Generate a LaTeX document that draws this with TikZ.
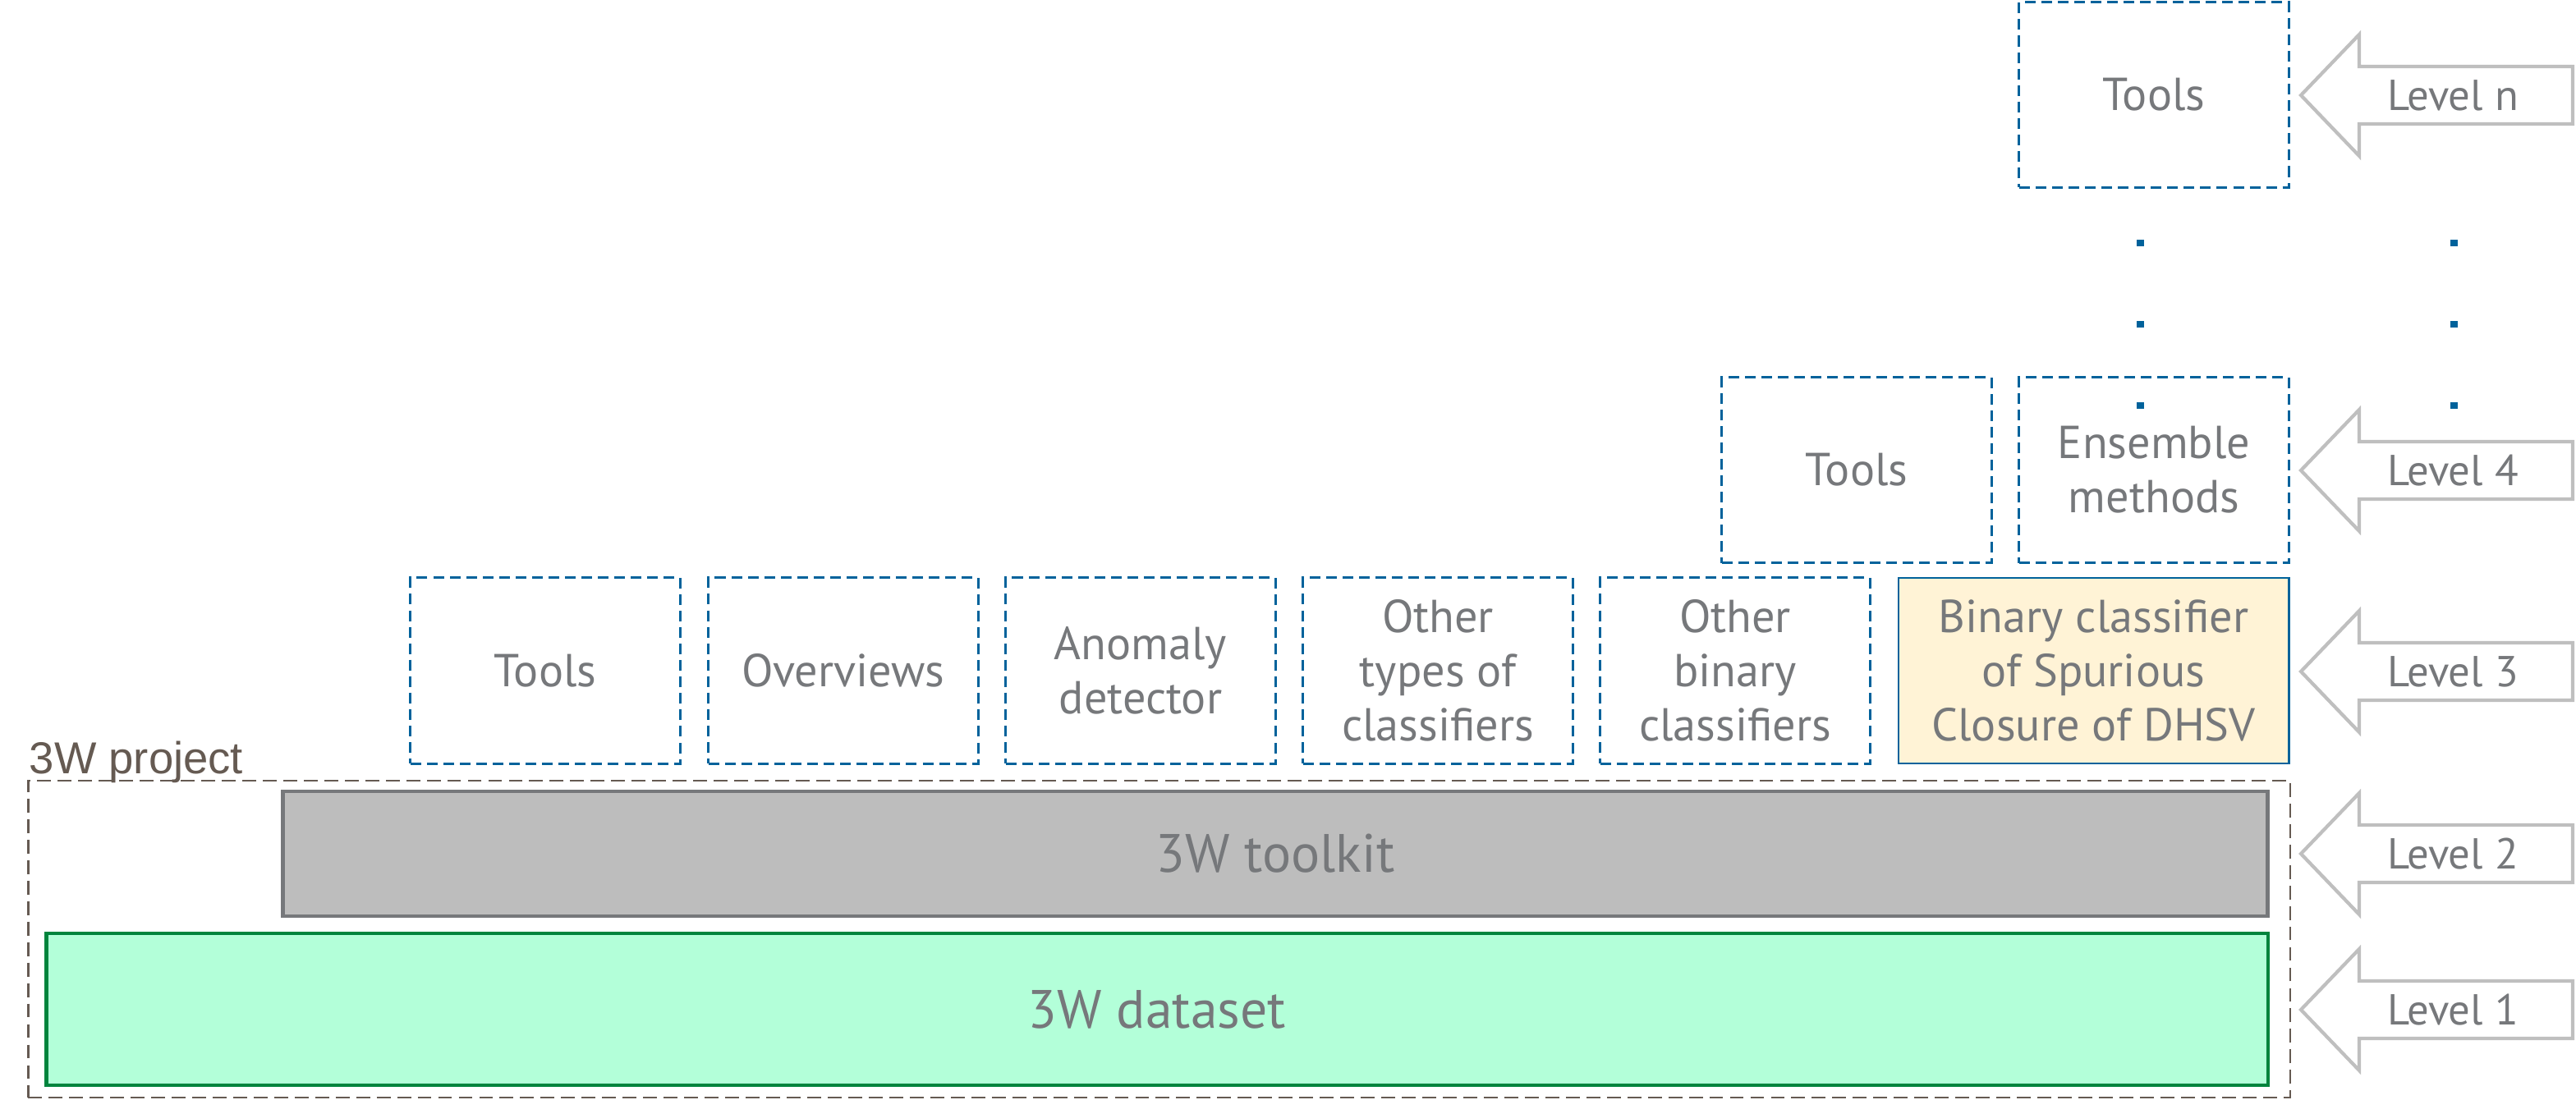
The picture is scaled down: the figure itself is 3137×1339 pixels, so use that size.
\documentclass[tikz,border=0pt]{standalone}
\usepackage{fontspec}
\setmainfont{PT Sans}
\newfontfamily\projfont{Liberation Sans}
\usepackage{xcolor}
\usepackage{tikz}
\usetikzlibrary{positioning}

\definecolor{tbblue}{RGB}{0,98,155}
\definecolor{txtgray}{RGB}{118,120,123}
\definecolor{arrgray}{RGB}{191,191,191}
\definecolor{projgray}{RGB}{101,90,82}
\definecolor{kitgray}{RGB}{189,189,189}
\definecolor{mint}{RGB}{179,255,217}
\definecolor{dgreen}{RGB}{0,132,61}
\definecolor{cream}{RGB}{255,243,214}

\newcommand{\boxfont}{\fontsize{16}{18.8}\selectfont}
\newcommand{\bigfont}{\fontsize{18.7}{22}\selectfont}
\newcommand{\lvlfont}{\fontsize{15}{18}\selectfont}

\tikzset{
  toolbox/.style={draw=tbblue,line width=0.85pt,dash pattern=on 3.7pt off 2pt,
    text=txtgray,font=\boxfont,align=center,inner sep=0pt,
    minimum width=3.28cm,minimum height=2.26cm},
  layerbox/.style={line width=1.3pt,text=txtgray,font=\bigfont,inner sep=0pt},
  lvlarrow/.style={draw=arrgray,line width=1.2pt},
  lvltext/.style={text=txtgray,font=\lvlfont,inner sep=0pt}
}

\begin{document}
\begin{tikzpicture}[x=0.01cm,y=-0.01cm]
  \useasboundingbox (0,0) rectangle (3137,1339);

  \node[draw=projgray,line width=0.75pt,dash pattern=on 4.8pt off 2.3pt,
    minimum width=27.53cm,minimum height=3.86cm,inner sep=0pt] (project) at (1411.5,1144) {};
  \node[anchor=base west,text=projgray,inner sep=0pt,font=\projfont\fontsize{15.5}{18}\selectfont]
    (projlabel) at (35,942) {3W project};

  \node[layerbox,draw=txtgray,fill=kitgray,minimum width=24.16cm,minimum height=1.52cm]
    (toolkit) at (1553,1040) {3W toolkit};
  \node[layerbox,draw=dgreen,fill=mint,minimum width=27.04cm,minimum height=1.85cm]
    (dataset) at (1409,1229.5) {3W dataset};

  \node[toolbox] (tools3) at (664,817) {Tools};
  \node[toolbox] (overviews) at (1027,817) {Overviews};
  \node[toolbox] (anomaly) at (1389,817) {Anomaly\\detector};
  \node[toolbox] (othertypes) at (1751,817) {Other\\types of\\classifiers};
  \node[toolbox] (otherbinary) at (2113,817) {Other\\binary\\classifiers};
  \node[toolbox,solid,line width=0.75pt,fill=cream,minimum width=4.75cm] (binary) at (2549.5,817)
    {Binary classifier\\of Spurious\\Closure of DHSV};

  \node[toolbox] (tools4) at (2261,572.5) {Tools};
  \node[toolbox] (ensemble) at (2623,572.5) {Ensemble\\methods};
  \node[toolbox,minimum height=2.25cm] (toolsn) at (2623,115.5) {Tools};

  \foreach \dx in {2606,2988}
    \foreach \dy in {296,395,494}
      \fill[tbblue] (\dx-4.5,\dy-4) rectangle (\dx+4.5,\dy+4);

  \foreach \lab/\yc in {n/116,4/573,3/818,2/1040,1/1230} {
    \draw[lvlarrow] (2802,\yc) -- (2873,\yc-74) -- (2873,\yc-35) -- (3133,\yc-35)
      -- (3133,\yc+35) -- (2873,\yc+35) -- (2873,\yc+74) -- cycle;
    \node[lvltext] (lvl\lab) at (2987,\yc) {Level \lab};
  }
\end{tikzpicture}
\end{document}
